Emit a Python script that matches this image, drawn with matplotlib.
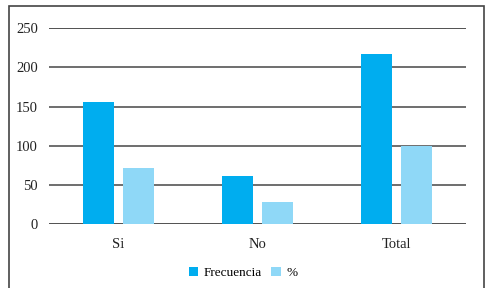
import numpy as np
import matplotlib.pyplot as plt
from matplotlib.patches import Rectangle

categorias = ['Si', 'No', 'Total']
frecuencia = [156, 61, 217]
porcentaje = [72, 28, 100]

plt.rcParams['font.family'] = ['Liberation Serif', 'DejaVu Serif']

W, H = 486, 288
fig = plt.figure(figsize=(W / 100, H / 100), dpi=100)
ax = fig.add_axes([49 / W, 1 - 224.3 / H, (466 - 49) / W, (224.3 - 28) / H])

x = np.arange(len(categorias))
w = 0.223
off = 0.144
ax.bar(x - off, frecuencia, w, color='#00adef', label='Frecuencia', zorder=3)
ax.bar(x + off, porcentaje, w, color='#8fd8f7', label='%', zorder=3)

ax.set_xlim(-0.5, 2.5)
ax.set_ylim(0, 250)
ax.set_yticks(range(0, 251, 50))
ax.set_xticks(x)
ax.set_xticklabels(categorias)
for y in range(0, 251, 50):
    ax.axhline(y, color='#333333' if y in (0, 250) else '#555555', lw=1.2, zorder=1)
for s in ax.spines.values():
    s.set_visible(False)
ax.tick_params(length=0, labelsize=10.5, colors='#222222')
ax.tick_params(axis='x', pad=10)
ax.tick_params(axis='y', pad=8)

fig.legend(loc='center', bbox_to_anchor=(243 / W, 1 - 273 / H), ncol=2, frameon=False,
           fontsize=9.5, handlelength=0.75, handleheight=0.75, handletextpad=0.4,
           columnspacing=0.7)

fig.patches.append(Rectangle((9 / W, -0.1), (484 - 9) / W, 1.1 - 6 / H,
                             transform=fig.transFigure, fill=False,
                             edgecolor='#444444', lw=1.2))

fig.savefig('out.png', dpi=100)
